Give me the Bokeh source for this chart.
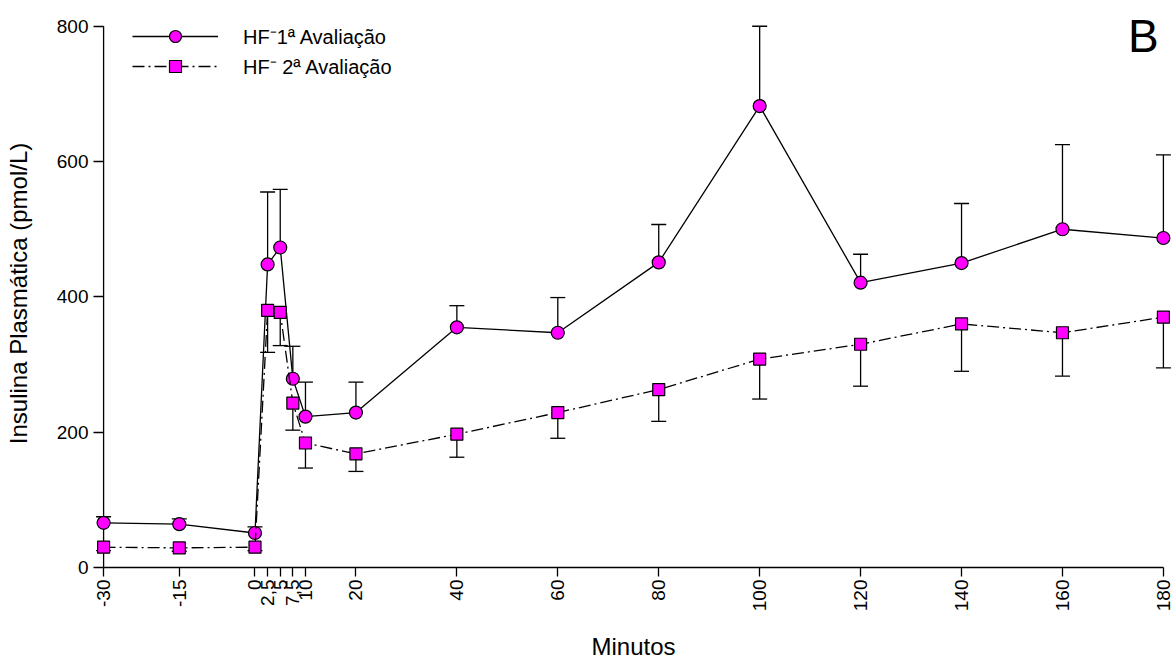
import math
from bokeh.plotting import figure
from bokeh.models import (Range1d, FixedTicker, Whisker, TeeHead, ColumnDataSource,
                          Legend, LegendItem, Label)
from bokeh.embed import file_html
from bokeh.resources import INLINE

# ---- data ----
minutes = [-30, -15, 0, 2.5, 5, 7.5, 10, 20, 40, 60, 80, 100, 120, 140, 160, 180]
tick_labels = ["-30", "-15", "0", "2,5", "5", "7,5", "10", "20", "40", "60",
               "80", "100", "120", "140", "160", "180"]
hf1_mean = [66, 64, 51, 448, 473, 279, 223, 229, 355, 347, 451, 682, 421, 450, 500, 487]
hf1_sd = [9, 8, 9, 107, 86, 48, 51, 45, 32, 52, 56, 118, 42, 88, 125, 123]
hf2_mean = [30, 29, 30, 380, 377, 243, 184, 168, 197, 229, 263, 308, 330, 360, 347, 370]
hf2_sd = [5, 5, 5, 62, 49, 40, 37, 26, 34, 38, 47, 59, 62, 70, 64, 75]
y_ticks = [0, 200, 400, 600, 800]
label1 = "HF\u207b1\u00aa Avalia\u00e7\u00e3o"
label2 = "HF\u207b 2\u00aa Avalia\u00e7\u00e3o"
y_title = "Insulina Plasm\u00e1tica (pmol/L)"
x_title = "Minutos"
panel_letter = "B"

FONT = "Liberation Sans"
MAGENTA = "#FF00FF"

p = figure(width=1175, height=664, output_backend="svg", toolbar_location=None,
           x_range=Range1d(-32, 182), y_range=Range1d(0, 810),
           min_border_left=93, min_border_right=2, min_border_top=19,
           min_border_bottom=97)
p.outline_line_color = None
p.grid.visible = False
p.background_fill_color = "white"
p.border_fill_color = "white"

src1 = ColumnDataSource(dict(x=minutes, y=hf1_mean,
                             upper=[m + s for m, s in zip(hf1_mean, hf1_sd)],
                             lower=hf1_mean))
src2 = ColumnDataSource(dict(x=minutes, y=hf2_mean,
                             upper=hf2_mean,
                             lower=[m - s for m, s in zip(hf2_mean, hf2_sd)]))

# left axis line drawn at the first time point (x = -30), from 0 to top tick
p.segment(x0=[minutes[0]], y0=[y_ticks[0]], x1=[minutes[0]], y1=[y_ticks[-1]],
          line_color="black", line_width=1.3)

w1 = Whisker(source=src1, base="x", upper="upper", lower="lower",
             upper_head=TeeHead(size=15, line_color="black", line_width=1.3),
             lower_head=None, line_color="black", line_width=1.3, level="underlay")
w2 = Whisker(source=src2, base="x", upper="upper", lower="lower",
             lower_head=TeeHead(size=15, line_color="black", line_width=1.3),
             upper_head=None, line_color="black", line_width=1.3, level="underlay")
p.add_layout(w1)
p.add_layout(w2)

l1 = p.line("x", "y", source=src1, line_color="black", line_width=1.3)
s1 = p.scatter("x", "y", source=src1, marker="circle", size=13,
               fill_color=MAGENTA, line_color="black", line_width=1.2)
l2 = p.line("x", "y", source=src2, line_color="black", line_width=1.3,
            line_dash="12 4 2 4")
s2 = p.scatter("x", "y", source=src2, marker="square", size=12,
               fill_color=MAGENTA, line_color="black", line_width=1.2)

# axes
p.xaxis.ticker = FixedTicker(ticks=minutes)
p.xaxis.major_label_overrides = {t: lab for t, lab in zip(minutes, tick_labels)}
p.xaxis.major_label_orientation = math.pi / 2
p.xaxis.bounds = (minutes[0], minutes[-1])
p.xaxis.major_tick_in = 0
p.xaxis.major_tick_out = 9
p.xaxis.major_label_standoff = 3
p.xaxis.axis_label_standoff = 19

p.yaxis.ticker = FixedTicker(ticks=y_ticks)
p.yaxis.axis_line_color = None
p.yaxis.major_tick_in = 10
p.yaxis.major_tick_out = 0
p.yaxis.major_label_standoff = 5
p.yaxis.axis_label_standoff = 22

for ax in (p.xaxis, p.yaxis):
    ax.minor_tick_line_color = None
    ax.axis_line_width = 1.3
    ax.major_tick_line_color = "black"
    ax.major_tick_line_width = 1.3
    ax.major_label_text_font = FONT
    ax.major_label_text_font_size = "19px"
    ax.major_label_text_color = "black"
    ax.axis_label_text_font = FONT
    ax.axis_label_text_font_size = "24px"
    ax.axis_label_text_font_style = "normal"
    ax.axis_label_text_color = "black"
p.xaxis.axis_line_color = "black"
p.xaxis.axis_label = x_title
p.yaxis.axis_label = y_title

legend = Legend(items=[LegendItem(label=label1, renderers=[l1, s1]),
                       LegendItem(label=label2, renderers=[l2, s2])],
                location=(39, 486), glyph_width=86, glyph_height=30,
                label_height=30, spacing=0, padding=0, margin=0,
                label_standoff=25, border_line_color=None,
                background_fill_alpha=0, label_text_font=FONT,
                label_text_font_size="20px", label_text_color="black")
p.add_layout(legend)

p.add_layout(Label(x=176, y=786, text=panel_letter, text_font=FONT,
                   text_font_size="46px", text_align="center",
                   text_baseline="middle", text_color="black"))

open("out.html", "w").write(file_html(p, INLINE))
